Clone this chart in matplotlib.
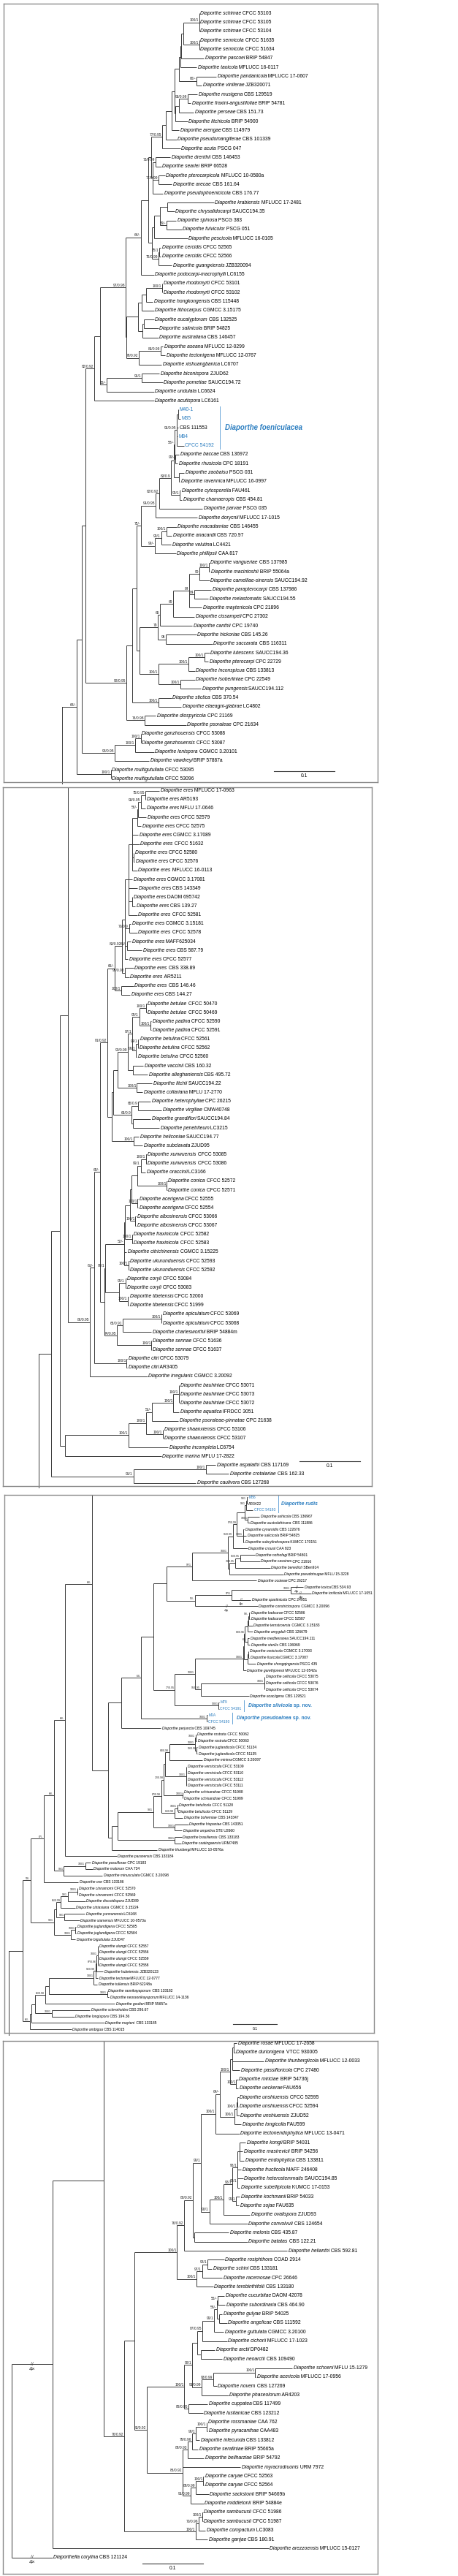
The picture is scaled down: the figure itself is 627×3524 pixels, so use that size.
import matplotlib
matplotlib.use("Agg")
import matplotlib.pyplot as plt
from matplotlib.collections import LineCollection

plt.rcParams["font.family"] = ["Liberation Sans", "DejaVu Sans"]

W, H = 627, 3524
BLUE = "#2a7dc0"
LINE = "#3a3a3a"

# ---- panel 1 ----  (species, strain, parent node, branch length x1e-3)
p1_taxa = [
    ("Diaporthe schimae", "CFCC 53103", "A", 0), ("Diaporthe schimae", "CFCC 53105", "A", 0),
    ("Diaporthe schimae", "CFCC 53104", "A", 0), ("Diaporthe sennicola", "CFCC 51635", "B", 0),
    ("Diaporthe sennicola", "CFCC 51634", "B", 0), ("Diaporthe pascoei", "BRIP 54847", "D", 37.2),
    ("Diaporthe taoicola", "MFLUCC 16-0117", "E", 27.2), ("Diaporthe pandanicola", "MFLUCC 17-0607", "F", 32.4),
    ("Diaporthe viniferae", "JZB320071", "F", 8.4), ("Diaporthe musigena", "CBS 129519", "H", 15.2),
    ("Diaporthe fraxini-angustifoliae", "BRIP 54781", "H", 4.4), ("Diaporthe perseae", "CBS 151.73", "I", 24),
    ("Diaporthe litchicola", "BRIP 54900", "J", 20), ("Diaporthe arengae", "CBS 114979", "L", 12),
    ("Diaporthe pseudomangiferae", "CBS 101339", "M", 17.2), ("Diaporthe acuta", "PSCG 047", "N", 30),
    ("Diaporthe drenthii", "CBS 146453", "O", 24), ("Diaporthe searlei", "BRIP 66528", "O", 8.8),
    ("Diaporthe pterocarpicola", "MFLUCC 10-0580a", "P", 10.8), ("Diaporthe arecae", "CBS 161.64", "P", 22.4),
    ("Diaporthe pseudophoenicicola", "CBS 176.77", "Q", 16.8), ("Diaporthe krabiensis", "MFLUCC 17-2481", "S", 76),
    ("Diaporthe chrysalidocarpi", "SAUCC194.35", "S", 11.2), ("Diaporthe spinosa", "PSCG 383", "T", 15.2),
    ("Diaporthe fulvicolor", "PSCG 051", "T", 24.4), ("Diaporthe pescicola", "MFLUCC 16-0105", "V", 55.2),
    ("Diaporthe cercidis", "CFCC 52565", "W", 2), ("Diaporthe cercidis", "CFCC 52566", "W", 2),
    ("Diaporthe guangxiensis", "JZB320094", "X", 22.4), ("Diaporthe podocarpi-macrophylli", "LC6155", "AA", 20.8),
    ("Diaporthe rhodomyrti", "CFCC 53101", "AB", 0), ("Diaporthe rhodomyrti", "CFCC 53102", "AB", 0),
    ("Diaporthe hongkongensis", "CBS 115448", "AC", 11.2), ("Diaporthe lithocarpus", "CGMCC 3.15175", "AD", 19.6),
    ("Diaporthe eucalyptorum", "CBS 132525", "AE1", 16), ("Diaporthe salinicola", "BRIP 54825", "AE1", 23.2),
    ("Diaporthe australiana", "CBS 146457", "AE", 25.6), ("Diaporthe aseana", "MFLUCC 12-0299", "AG", 4),
    ("Diaporthe tectonigena", "MFLUCC 12-0767", "AG", 7.2), ("Diaporthe xishuangbanica", "LC6707", "AH", 37.6),
    ("Diaporthe biconispora", "ZJUD62", "AK", 28.8), ("Diaporthe pometiae", "SAUCC194.72", "AK", 34),
    ("Diaporthe undulata", "LC6624", "AL", 78), ("Diaporthe acutispora", "LC6161", "AN", 97.6),
    ("", "M40-1", "AO1", 0.8), ("", "M35", "AO1", 3.6), ("", "CBS 111553", "AO", 3.2),
    ("", "M84", "AO", 2), ("", "CFCC 54192", "AO", 12),
    ("Diaporthe baccae", "CBS 136972", "AP", 6), ("Diaporthe rhusicola", "CPC 18191", "AP", 4),
    ("Diaporthe zaobaisu", "PSCG 031", "AQ", 8.8), ("Diaporthe ravennica", "MFLUCC 16-0997", "AQ", 1.2),
    ("Diaporthe cytosporella", "FAU461", "AT", 1.6), ("Diaporthe chamaeropis", "CBS 454.81", "AT", 4),
    ("Diaporthe parvae", "PSCG 035", "AV", 70.8), ("Diaporthe dorycnii", "MFLUCC 17-1015", "AW", 68),
    ("Diaporthe macadamiae", "CBS 146455", "AX", 16), ("Diaporthe anacardii", "CBS 720.97", "AX", 8),
    ("Diaporthe velutina", "LC4421", "AY", 16), ("Diaporthe phillipsii", "CAA 817", "AZ", 34),
    ("Diaporthe vangueriae", "CBS 137985", "BB", 1.2), ("Diaporthe macintoshii", "BRIP 55064a", "BB", 2),
    ("Diaporthe camelliae-sinensis", "SAUCC194.92", "BC", 16), ("Diaporthe parapterocarpi", "CBS 137986", "BD", 28.4),
    ("Diaporthe melastomatis", "SAUCC194.55", "BD", 23.6), ("Diaporthe maytenicola", "CPC 21896", "BE", 20.4),
    ("Diaporthe cissampeli", "CPC 27302", "BF", 34.4), ("Diaporthe canthii", "CPC 19740", "BG", 53.2),
    ("Diaporthe hickoriae", "CBS 145.26", "BH", 50.4), ("Diaporthe saccarata", "CBS 116311", "BH", 76.8),
    ("Diaporthe lutescens", "SAUCC194.36", "BJ", 8), ("Diaporthe pterocarpi", "CPC 22729", "BJ", 6.4),
    ("Diaporthe inconspicua", "CBS 133813", "BK", 10.8), ("Diaporthe isoberliniae", "CPC 22549", "BL", 24),
    ("Diaporthe pungensis", "SAUCC194.112", "BL", 34), ("Diaporthe stictica", "CBS 370.54", "BO", 21.6),
    ("Diaporthe elaeagni-glabrae", "LC4802", "BO", 38), ("Diaporthe diospyricola", "CPC 21169", "BQ", 18),
    ("Diaporthe psoraleae", "CPC 21634", "BQ", 67.6), ("Diaporthe ganzhouensis", "CFCC 53088", "BT", 0),
    ("Diaporthe ganzhouensis", "CFCC 53087", "BT", 0), ("Diaporthe lenispora", "CGMCC 3.20101", "BU", 30.8),
    ("Diaporthe vawdreyi", "BRIP 57887a", "BV", 56.8), ("Diaporthe multigutullata", "CFCC 53095", "BX", 0),
    ("Diaporthe multigutullata", "CFCC 53096", "BX", 0),
]
# (node, parent, branch length x1e-3, support)
p1_nodes = [
    ("A", "C", 26.4, "100/1"), ("B", "C", 26.4, "100/1"), ("C", "D", 2.8, ""), ("D", "E", 2.0, ""),
    ("E", "G", 2.0, ""), ("F", "G", 28.8, "66/-"), ("G", "K", 7.2, ""), ("H", "I", 14.8, "93/0.99"),
    ("I", "J", 6.0, ""), ("J", "K", 1.2, ""), ("K", "L", 4.8, ""), ("L", "M", 9.2, ""),
    ("M", "N", 6.8, ""), ("N", "R", 18, "77/0.95"), ("O", "Q", 4.8, "73/0.99"), ("P", "Q", 8.8, "77/0.99"),
    ("Q", "R", 3.2, ""), ("R", "Z", 4, ""), ("S", "U", 12.4, ""), ("T", "U", 11.2, "59/-"),
    ("U", "V", 10, ""), ("V", "Y", 2.8, ""), ("W", "X", 2, "75/1"), ("X", "Y", 10, "75/0.99"),
    ("Y", "Z", 6, ""), ("Z", "AA", 12, ""), ("AA", "AJ", 26, "64/-"), ("AB", "AC", 26.8, "100/1"),
    ("AC", "AD", 6.8, ""), ("AD", "AF", 6.4, ""), ("AE1", "AE", 2.4, ""), ("AE", "AF", 7.6, ""),
    ("AF", "AI", 19.6, ""), ("AG", "AH", 36, "83/0.99"), ("AH", "AI", 20.8, "79/0.92"), ("AI", "AJ", 1.2, ""),
    ("AJ", "AM", 42, "97/0.98"), ("AK", "AL", 58.4, "91/1"), ("AL", "AM", 10.8, "65/-"), ("AM", "AN", 8.8, ""),
    ("AN", "BY", 15.2, "82/0.92"), ("AO1", "AO", 2.4, ""), ("AO", "AR", 2.8, "91/0.95"), ("AP", "AR", 0.8, "99/-"),
    ("AR", "AS", 2, "58/-"), ("AQ", "AS", 8.8, ""), ("AS", "AU", 4, ""), ("AT", "AU", 14, "99/1"),
    ("AU", "AV", 19.2, "83/0.9"), ("AV", "AW", 6, "62/0.92"), ("AW", "BA", 24, "94/0.95"), ("AX", "AY", 9.2, "100/1"),
    ("AY", "AZ", 10, "99/1"), ("AZ", "BA", 22.8, "99/-"), ("BA", "BS", 7.2, "75/-"), ("BB", "BC", 14.8, "100/1"),
    ("BC", "BE", 17.2, "99"), ("BD", "BE", 8, "84"), ("BE", "BF", 26, "84"), ("BF", "BG", 22, "69"),
    ("BG", "BI", 3.6, "65"), ("BH", "BI", 12.8, "95"), ("BI", "BN", 30.4, "79"), ("BJ", "BK", 26.8, "100/1"),
    ("BK", "BM", 48.4, "100/1"), ("BL", "BM", 35.2, "100/1"), ("BM", "BN", 32, "100/1"), ("BN", "BS", 4, ""),
    ("BS", "BP", 7.6, ""), ("BO", "BP", 42.8, "100/1"), ("BP", "BR", 9.2, ""), ("BQ", "BR", 30, "76/0.98"),
    ("BR", "BY", 68, "98/0.95"), ("BY", "BZ", 6, ""), ("BT", "BU", 9.2, "100/1"), ("BU", "BV", 34, "100/1"),
    ("BV", "BZ", 54, "98/0.95"), ("BZ", "CA", 7.6, ""), ("BX", "CA", 55.6, "100/1"), ("CA", None, 24.4, "68/-"),
]

# ---- panel 2 ----
p2_taxa = [
    ("Diaporthe eres", "MFLUCC 17-0963", "E1", 23.2), ("Diaporthe eres", "AR5193", "E1", 0.4),
    ("Diaporthe eres", "MFLU 17-0646", "E2", 8), ("Diaporthe eres", "CFCC 52579", "E3", 12.8),
    ("Diaporthe eres", "CFCC 52575", "E4", 6), ("Diaporthe eres", "CGMCC 3.17089", "E5", 10.4),
    ("Diaporthe eres", "CFCC 51632", "E5", 12), ("Diaporthe eres", "CFCC 52580", "E5a", 0.8),
    ("Diaporthe eres", "CFCC 52576", "E5a", 1.6), ("Diaporthe eres", "MFLUCC 16-0113", "E5", 8.4),
    ("Diaporthe eres", "CGMCC 3.17081", "E6", 6), ("Diaporthe eres", "CBS 143349", "E6", 14.8),
    ("Diaporthe eres", "DAOM 695742", "E6a", 0), ("Diaporthe eres", "CBS 139.27", "E6a", 4.8),
    ("Diaporthe eres", "CFCC 52581", "E6", 14), ("Diaporthe eres", "CGMCC 3.15181", "E7", 3.2),
    ("Diaporthe eres", "CFCC 52578", "E7", 13.2), ("Diaporthe eres", "MAFF625034", "E8", 6.4),
    ("Diaporthe eres", "CBS 587.79", "E8", 24), ("Diaporthe eres", "CFCC 52577", "E9", 5.2),
    ("Diaporthe eres", "CBS 338.89", "E10", 14.4), ("Diaporthe eres", "AR5211", "E10", 7.2),
    ("Diaporthe eres", "CBS 146.46", "E12", 20), ("Diaporthe eres", "CBS 144.27", "E12", 14.8),
    ("Diaporthe betulae", "CFCC 50470", "E14", 0.8), ("Diaporthe betulae", "CFCC 50469", "E14", 0.8),
    ("Diaporthe padina", "CFCC 52590", "E15", 1.6), ("Diaporthe padina", "CFCC 52591", "E15", 1.6),
    ("Diaporthe betulina", "CFCC 52561", "E17a", 0.8), ("Diaporthe betulina", "CFCC 52562", "E17a", 0),
    ("Diaporthe betulina", "CFCC 52560", "E17", 1.6), ("Diaporthe vaccinii", "CBS 160.32", "E19", 17.2),
    ("Diaporthe alleghaniensis", "CBS 495.72", "E19", 24.4), ("Diaporthe litchii", "SAUCC194.22", "E21", 24.8),
    ("Diaporthe collariana", "MFLU 17-2770", "E21", 9.6), ("Diaporthe heterophyllae", "CPC 26215", "E23", 20.4),
    ("Diaporthe virgiliae", "CMW40748", "E23", 38.8), ("Diaporthe grandiflori", "SAUCC194.84", "E24b", 29.2),
    ("Diaporthe penetriteum", "LC3215", "E24b", 43.6), ("Diaporthe heliconiae", "SAUCC194.77", "E26", 8.8),
    ("Diaporthe subclavata", "ZJUD95", "E26", 15.2), ("Diaporthe xunwuensis", "CFCC 53085", "E29", 0.8),
    ("Diaporthe xunwuensis", "CFCC 53086", "E29", 0.8), ("Diaporthe oraccinii", "LC3166", "E30", 7.6),
    ("Diaporthe conica", "CFCC 52572", "E31", 0.4), ("Diaporthe conica", "CFCC 52571", "E31", 0.4),
    ("Diaporthe acerigena", "CFCC 52555", "E33", 0.8), ("Diaporthe acerigena", "CFCC 52554", "E33", 0.8),
    ("Diaporthe albosinensis", "CFCC 53066", "E35", 0.8), ("Diaporthe albosinensis", "CFCC 53067", "E35", 0.8),
    ("Diaporthe fraxinicola", "CFCC 52582", "E37", 0.8), ("Diaporthe fraxinicola", "CFCC 52583", "E37", 0.8),
    ("Diaporthe citrichinensis", "CGMCC 3.15225", "E41", 4), ("Diaporthe ukurunduensis", "CFCC 52593", "E40", 0.8),
    ("Diaporthe ukurunduensis", "CFCC 52592", "E40", 0.8), ("Diaporthe coryli", "CFCC 53084", "E42", 1.2),
    ("Diaporthe coryli", "CFCC 53083", "E42", 1.2), ("Diaporthe tibetensis", "CFCC 52000", "E43", 1.2),
    ("Diaporthe tibetensis", "CFCC 51999", "E43", 1.2), ("Diaporthe apiculatum", "CFCC 53069", "E46", 0.4),
    ("Diaporthe apiculatum", "CFCC 53068", "E46", 0.4), ("Diaporthe charlesworthii", "BRIP 54884m", "E47", 46.8),
    ("Diaporthe sennae", "CFCC 51636", "E48", 0), ("Diaporthe sennae", "CFCC 51637", "E48", 0),
    ("Diaporthe citri", "CFCC 53079", "E51", 0.8), ("Diaporthe citri", "AR3405", "E51", 0.8),
    ("Diaporthe irregularis", "CGMCC 3.20092", "X368", 94.8), ("Diaporthe bauhiniae", "CFCC 53071", "B1", 0),
    ("Diaporthe bauhiniae", "CFCC 53073", "B1", 0), ("Diaporthe bauhiniae", "CFCC 53072", "B1", 0),
    ("Diaporthe aquatica", "IFRDCC 3051", "B2", 9.2), ("Diaporthe psoraleae-pinnatae", "CPC 21638", "B3", 43.2),
    ("Diaporthe shaanxiensis", "CFCC 53106", "B4", 0.8), ("Diaporthe shaanxiensis", "CFCC 53107", "B4", 0.8),
    ("Diaporthe incompleta", "LC6754", "B6", 65.2), ("Diaporthe marina", "MFLU 17-2822", "B7", 157.6),
    ("Diaporthe aspalathi", "CBS 117169", "B8", 16), ("Diaporthe crotalariae", "CBS 162.33", "B8", 38),
    ("Diaporthe caulivora", "CBS 127268", "B9", 102.8),
]
p2_nodes = [
    ("E1", "E2", 7.6, "75/0.95"), ("E2", "E3", 4, "93/0.95"), ("E3", "E4", 1.2, "56/-"), ("E4", "E5", 9.2, ""),
    ("E5a", "E5", 2.4, ""), ("E5", "E6", 5.6, ""), ("E6a", "E6", 6, ""), ("E6", "E9", 6.4, ""),
    ("E7", "E9", 7.2, "70/0.9"), ("E8", "E9", 4, "61/-"), ("E9", "E11", 4.8, ""), ("E10", "E11", 4.8, "96/0.98"),
    ("E11", "E13", 12, "83/0.92"), ("E12", "E13", 11.2, "100/1"), ("E13", "E28", 11.2, "65/-"),
    ("E14", "E16", 11.2, "100/1"), ("E15", "E16", 18.4, "100/1"), ("E16", "E18", 11.6, "99/1"),
    ("E17a", "E17", 4, "94/1"), ("E17", "E18", 6, "99/1"), ("E18", "E20", 7.2, "97/1"), ("E19", "E20", 8, ""),
    ("E20", "E22", 17.2, "90/0.99"), ("E21", "E22", 32, "100/1"), ("E22", "E25", 6.8, ""),
    ("E23", "E24", 10.8, "65/0.9"), ("E24b", "E24", 2, ""), ("E24", "E25", 30, "65/0.9"), ("E25", "E27", 2, ""),
    ("E26", "E27", 35.2, "100/1"), ("E27", "E28", 7.2, ""), ("E28", "X412", 12, "81/0.92"),
    ("E29", "E30", 8.8, "100/1"), ("E30", "E32", 5.2, "99/1"), ("E31", "E32", 48, "100/1"), ("E32", "E34", 10, ""),
    ("E33", "E34", 10, "100/1"), ("E34", "E36", 2, ""), ("E35", "E36", 8.4, "100/1"), ("E36", "E38", 9.2, ""),
    ("E37", "E38", 12.4, "100/1"), ("E38", "E41", 0.8, ""), ("E40", "E41", 7.2, "100/1"), ("E41", "E45", 31.2, "52/-"),
    ("E42", "E44", 10, "99/1"), ("E43", "E44", 14, "100/1"), ("E44", "E45", 23.2, ""), ("E45", "E50", 0.8, "99/1"),
    ("E46", "E47", 62.8, "100/1"), ("E47", "E49", 10, "65/0.91"), ("E48", "E49", 56.8, "100/1"),
    ("E49", "E50", 20, "74/0.95"), ("E50", "X412", 7.2, ""), ("X412", "X388", 9.6, "69/-"),
    ("E51", "X388", 52.8, "100/1"), ("X388", "X368", 8, "61/-"), ("X368", "X280", 35.2, "86/0.95"),
    ("X280", "X245", 14, ""), ("B1", "B2", 9.2, "100/1"), ("B2", "B3", 34.8, "100/1"), ("B3", "B5", 10, "51/-"),
    ("B4", "B5", 27.2, "100/1"), ("B5", "B6", 29.2, "100/1"), ("B6", "B7", 103.6, "100/1"), ("B7", "X245", 9.2, ""),
    ("X245", "X210", 14, ""), ("B8", "B9", 118.8, "100/1"), ("B9", "X210", 135.2, "91/1"), ("X210", None, 20, ""),
]

# ---- panel 3 ----
p3_taxa = [
    ("", "M86", "R1", 1.1), ("", "AR3422", "R1", 1.1), ("", "CFCC 54193", "R2", 15.6),
    ("Diaporthe ashicola", "CBS 136967", "R3", 26.7), ("Diaporthe australafricana", "CBS 111886", "R3", 3.9),
    ("Diaporthe cynaroidis", "CBS 122676", "R5", 2.2), ("Diaporthe salicicola", "BRIP 54825", "R5", 6.7),
    ("Diaporthe subcylindrospora", "KUMCC 170151", "R5", 2.2), ("Diaporthe crousii", "CAA 823", "R7", 33.4),
    ("Diaporthe nothofagi", "BRIP 54801", "R8", 33.4), ("Diaporthe cassines", "CPC 21916", "R8", 45),
    ("Diaporthe benedicti", "SBen914", "R9", 79.5), ("Diaporthe pseudotsugae", "MFLU 15-3228", "R10", 122.3),
    ("Diaporthe ocoteae", "CPC 26217", "R12", 147.3), ("Diaporthe toxica", "CBS 534.93", "R13", 28.9),
    ("Diaporthe torilicola", "MFLUCC 17-1051", "R13", 46.7), ("Diaporthe spartinicola", "CPC 24951", "R14", 43.4),
    ("Diaporthe constrictospora", "CGMCC 3.20096", "R15", 143.4), ("Diaporthe kadsurae", "CFCC 52586", "R17", 1.1),
    ("Diaporthe kadsurae", "CFCC 52587", "R17", 1.1), ("Diaporthe ternstroemia", "CGMCC 3.15183", "R18", 8.9),
    ("Diaporthe amygdali", "CBS 126679", "R19", 12.8), ("Diaporthe mediterranea", "SAUCC194.111", "R20", 3.9),
    ("Diaporthe sterilis", "CBS 136969", "R20", 6.1), ("Diaporthe ovoicicola", "CGMCC 3.17093", "R21", 1.1),
    ("Diaporthe fusicola", "CGMCC 3.17087", "R21", 2.2), ("Diaporthe chongqingensis", "PSCG 435", "R21b", 19.5),
    ("Diaporthe garethjonesii", "MFLUCC 12-0542a", "R24", 7.2), ("Diaporthe celticola", "CFCC 53075", "R25", 0.6),
    ("Diaporthe celticola", "CFCC 53076", "R25", 0.6), ("Diaporthe celticola", "CFCC 53074", "R25", 0.6),
    ("Diaporthe acaciigena", "CBS 129521", "R26", 109.5), ("", "M79", "R28", 0.6), ("", "CFCC 54191", "R28", 0.6),
    ("", "M2A", "R30", 1.1), ("", "CFCC 54190", "R30", 1.1), ("Diaporthe perjuncta", "CBS 109745", "R34", 90.6),
    ("Diaporthe rostrata", "CFCC 50062", "R35", 1.1), ("Diaporthe rostrata", "CFCC 50063", "R35", 1.7),
    ("Diaporthe juglandicola", "CFCC 51134", "R36", 1.7), ("Diaporthe juglandicola", "CFCC 51135", "R36", 1.7),
    ("Diaporthe minima", "CGMCC 3.20097", "R38", 75.1), ("Diaporthe vernicicola", "CFCC 53109", "R39", 1.1),
    ("Diaporthe vernicicola", "CFCC 53110", "R39", 1.1), ("Diaporthe vernicicola", "CFCC 53112", "R39", 1.1),
    ("Diaporthe vernicicola", "CFCC 53111", "R39", 1.1), ("Diaporthe schisandrae", "CFCC 51988", "R41", 0),
    ("Diaporthe schisandrae", "CFCC 51989", "R41", 0), ("Diaporthe betulicola", "CFCC 51128", "R43", 1.7),
    ("Diaporthe betulicola", "CFCC 51129", "R43", 0), ("Diaporthe bohemiae", "CBS 143347", "R44", 19.5),
    ("Diaporthe hispaniae", "CBS 143351", "R46", 30.6), ("Diaporthe ampelina", "STE U2660", "R46", 16.1),
    ("Diaporthe brasiliensis", "CBS 133183", "R48", 15.6), ("Diaporthe caatingaensis", "URM7485", "R48", 13.9),
    ("Diaporthe thunbergii", "MFLUCC 10-0576a", "R50", 104.5), ("Diaporthe paranensis", "CBS 133184", "X268", 116.8),
    ("Diaporthe passiflorae", "CPC 19183", "R53", 12.2), ("Diaporthe malorum", "CAA 734", "R53", 16.7),
    ("Diaporthe minusculata", "CGMCC 3.20098", "R54", 87.8), ("Diaporthe oxe", "CBS 133186", "X180", 79),
    ("Diaporthe cinnamomi", "CFCC 52570", "R55", 0), ("Diaporthe cinnamomi", "CFCC 52569", "R55", 0),
    ("Diaporthe discoidispora", "ZJUD89", "R56", 40), ("Diaporthe citriasiana", "CGMCC 3.15224", "R57", 32.2),
    ("Diaporthe yunnanensis", "LC6168", "R58", 46.1), ("Diaporthe siamensis", "MFLUCC 10-0573a", "R58", 33.9),
    ("Diaporthe juglandigena", "CFCC 52585", "R60", 1.1), ("Diaporthe juglandigena", "CFCC 52584", "R60", 1.1),
    ("Diaporthe biguttulata", "ZJUD47", "R61", 10), ("Diaporthe alangii", "CFCC 52557", "R64", 0.6),
    ("Diaporthe alangii", "CFCC 52556", "R64", 0.6), ("Diaporthe alangii", "CFCC 52559", "R64", 0.6),
    ("Diaporthe alangii", "CFCC 52558", "R64", 0.6), ("Diaporthe hubeiensis", "JZB320123", "R65", 15),
    ("Diaporthe tectonae", "MFLUCC 12-0777", "R66", 5.6), ("Diaporthe tulliensis", "BRIP 62248a", "R67", 8.3),
    ("Diaporthe raonikayaporum", "CBS 133182", "R68", 0), ("Diaporthe neoraonikayaporum", "MFLUCC 14-1136", "R68", 3.9),
    ("Diaporthe goulteri", "BRIP 55657a", "R70", 159.6), ("Diaporthe sclerotioides", "CBS 296.67", "R71", 87.3),
    ("Diaporthe longispora", "CBS 194.36", "R71", 51.2), ("Diaporthe mayteni", "CBS 133185", "R73", 165.7),
    ("Diaporthe ambigua", "CBS 114015", "R74", 95.1),
]
p3_nodes = [
    ("R1", "R2", 1.7, "99/1"), ("R2", "R4", 3.9, "99/1"), ("R3", "R4", 7.8, "100/1"), ("R4", "R6", 17.2, ""),
    ("R5", "R6", 14.5, "100/1"), ("R6", "R7", 9.5, "97/0.99"), ("R7", "R11", 11.1, "91/0.99"),
    ("R8", "R9", 11.1, "96/0.95"), ("R9", "R10", 12.8, "79/0.95"), ("R10", "R11", 3.9, ""),
    ("R11", "R12", 82.3, "100/1"), ("R12", "R16", 58.4, "97/1"), ("R13", "R14", 134.5, "100/1"),
    ("R14", "R15", 83.4, "97/1"), ("R15", "R16", 65.6, "56/-"), ("R16", "R33", 30, ""),
    ("R17", "R18", 1.7, "99/-"), ("R18", "R19", 2.8, ""), ("R19", "R22", 5.6, ""), ("R20", "R22", 5.6, "63/-"),
    ("R22", "R23", 2.8, "83/0.96"), ("R21", "R21b", 1.7, ""), ("R21b", "R23", 8.3, ""), ("R23", "R24", 1.7, ""),
    ("R24", "R27", 109.5, "100/1"), ("R25", "R26", 144.6, "100/1"), ("R26", "R27", 13.9, "95/0.95"),
    ("R27", "R29", 46.1, "100/1"), ("R28", "R29", 100, "100/1"), ("R29", "R33", 49.5, "77/0.95"),
    ("R33", "R31", 26.7, ""), ("R30", "R31", 149, "100/1"), ("R31", "R34", 46.1, "63/-"), ("R34", "R51", 30, ""),
    ("R35", "R37", 1.7, "100/1"), ("R36", "R37", 3.9, "99/0.98"), ("R37", "R38", 58.4, "100/1"),
    ("R38", "R40", 9.5, "84/0.98"), ("R39", "R40", 47.3, "100/1"), ("R40", "R42", 3.3, ""),
    ("R41", "R42", 43.4, "100/1"), ("R42", "R45", 5.6, "72/0.98"), ("R43", "R44", 6.7, "100/1"),
    ("R44", "R45", 29.5, "81/0.98"), ("R45", "R47", 18.9, "87/0.98"), ("R46", "R47", 49.5, "100/1"),
    ("R47", "R49", 80.6, "98/1"), ("R48", "R49", 130.1, "100/1"), ("R49", "R50", 14.5, ""), ("R50", "R51", 7.8, ""),
    ("R51", "X378", 36.1, ""), ("X378", "X268", 61.2, "68/-"), ("X268", "X222", 25.6, "68/-"),
    ("R53", "R54", 48.9, "100/1"), ("R54", "X222", 22.2, "99/1"), ("X222", "X180", 23.4, "69/-"),
    ("X180", "R63", 29.5, "67/-"), ("R55", "R56", 22.2, "100/1"), ("R56", "R57", 15.6, "99/1"),
    ("R57", "R59", 10, "65/0.99"), ("R58", "R59", 18.3, "98/1"), ("R59", "R62", 5.6, ""),
    ("R60", "R61", 10, "100/1"), ("R61", "R62", 38.9, "100/1"), ("R62", "R63", 52.8, "98/1"),
    ("R63", "R75", 18.9, "53/-"), ("R64", "R65", 2.8, "100/1"), ("R65", "R66", 2.8, "87/0.96"),
    ("R66", "R67", 3.9, "96/0.98"), ("R67", "R69", 102.9, "100/1"), ("R68", "R69", 133.4, "100/1"),
    ("R69", "R70", 8.3, ""), ("R70", "R72", 22.2, "86/0.98"), ("R71", "R72", 37.8, "100/1"),
    ("R72", "R73", 8.3, ""), ("R73", "R74", 4.4, ""), ("R74", "R75", 16.1, "66/-"), ("R75", None, 31.1, ""),
]

# ---- panel 4 ----
p4_taxa = [
    ("Diaporthe rosae", "MFLUCC 17-2658", "T1a", 5.2), ("Diaporthe durionigena", "VTCC 930005", "T1a", 2),
    ("Diaporthe thunbergiicola", "MFLUCC 12-0033", "T1", 51.2), ("Diaporthe passifloricola", "CPC 27480", "T1", 12),
    ("Diaporthe miriciae", "BRIP 54736j", "T2", 2.8), ("Diaporthe ueckerae", "FAU656", "T2", 3.2),
    ("Diaporthe unshiuensis", "CFCC 52595", "T4", 2), ("Diaporthe unshiuensis", "CFCC 52594", "T4", 1.2),
    ("Diaporthe unshiuensis", "ZJUD52", "T5", 4.4), ("Diaporthe longicolla", "FAU599", "T6", 11.2),
    ("Diaporthe tectonendophytica", "MFLUCC 13-0471", "T8", 39.2), ("Diaporthe kongii", "BRIP 54031", "T9a", 9.2),
    ("Diaporthe masirevicii", "BRIP 54256", "T9a", 4.8), ("Diaporthe endophytica", "CBS 133811", "T9a", 7.2),
    ("Diaporthe fructicola", "MAFF 246408", "T9", 6), ("Diaporthe heterostemmatis", "SAUCC194.85", "T9b", 9.2),
    ("Diaporthe subellipicola", "KUMCC 17-0153", "T9b", 4), ("Diaporthe kochmanii", "BRIP 54033", "T10", 6),
    ("Diaporthe sojae", "FAU635", "T10", 4.8), ("Diaporthe ovalispora", "ZJUD93", "T12", 44),
    ("Diaporthe convolvuli", "CBS 124654", "T13", 62.4), ("Diaporthe melonis", "CBS 435.87", "T15", 57.2),
    ("Diaporthe batatas", "CBS 122.21", "T15", 87.6), ("Diaporthe helianthi", "CBS 592.81", "T17", 170),
    ("Diaporthe rosiphthora", "COAD 2914", "T18", 27.2), ("Diaporthe schini", "CBS 133181", "T18", 7.2),
    ("Diaporthe racemosae", "CPC 26646", "T19", 32.8), ("Diaporthe terebinthifolii", "CBS 133180", "T20", 27.2),
    ("Diaporthe cucurbitae", "DAOM 42078", "T22", 10.8), ("Diaporthe subordinaria", "CBS 464.90", "T22", 11.6),
    ("Diaporthe gulyae", "BRIP 54025", "T23", 4.8), ("Diaporthe angelicae", "CBS 111592", "T23", 12.8),
    ("Diaporthe guttulata", "CGMCC 3.20100", "T25", 15.2), ("Diaporthe cichorii", "MFLUCC 17-1023", "T26", 40.8),
    ("Diaporthe arctii", "DP0482", "T27", 23.2), ("Diaporthe neoarctii", "CBS 109490", "T27", 35.2),
    ("Diaporthe schoeni", "MFLU 15-1279", "T29", 60.8), ("Diaporthe acericola", "MFLUCC 17-0956", "T29", 0.8),
    ("Diaporthe novem", "CBS 127269", "T30", 5.2), ("Diaporthe phaseolorum", "AR4203", "T31", 44.4),
    ("Diaporthe cuppatea", "CBS 117499", "T33", 31.6), ("Diaporthe lusitanicae", "CBS 123212", "T33", 24),
    ("Diaporthe rossmaniae", "CAA 762", "T35", 0.8), ("Diaporthe pyracanthae", "CAA483", "T35", 1.6),
    ("Diaporthe infecunda", "CBS 133812", "T36", 6), ("Diaporthe serafiniae", "BRIP 55665a", "T37", 9.2),
    ("Diaporthe beilharziae", "BRIP 54792", "T38", 27.2), ("Diaporthe myracrodruonis", "URM 7972", "T42", 95.2),
    ("Diaporthe caryae", "CFCC 52563", "T39", 1.2), ("Diaporthe caryae", "CFCC 52564", "T39", 1.2),
    ("Diaporthe sackstonii", "BRIP 54669b", "T40", 20.8), ("Diaporthe middletonii", "BRIP 54884e", "T41", 21.6),
    ("Diaporthe sambucusii", "CFCC 51986", "T44", 1.2), ("Diaporthe sambucusii", "CFCC 51987", "T44", 1.2),
    ("Diaporthe compactum", "LC3083", "T45", 11.2), ("Diaporthe ganjae", "CBS 180.91", "T46", 20),
    ("Diaporthe arezzoensis", "MFLUCC 15-0127", "X215", 355.2), ("Diaporthella corylina", "CBS 121124", "X47", 67.2),
]
p4_nodes = [
    ("T1a", "T1", 2, ""), ("T1", "T3", 4, ""), ("T2", "T3", 10, "100/1"), ("T3", "T7", 16.8, "100/1"),
    ("T4", "T5", 1.2, ""), ("T5", "T6", 4, "100/1"), ("T6", "T7", 23.6, "100/1"), ("T7", "T8", 7.2, "64/-"),
    ("T8", "T14", 24, "100/1"), ("T9a", "T9", 4, ""), ("T9b", "T9", 0, "99/1"), ("T9", "T11", 8, "96/1"),
    ("T10", "T11", 6, "99/1"), ("T11", "T12", 15.2, "98/1"), ("T12", "T13", 22.8, "100/1"),
    ("T13", "T14", 14, "98/1"), ("T14", "T16", 12.8, "99/1"), ("T15", "T16", 1.6, ""),
    ("T16", "T17", 15.2, "88/0.92"), ("T17", "T21", 11.2, "76/0.92"), ("T18", "T19", 8.8, "98/1"),
    ("T19", "T20", 9.2, "97/1"), ("T20", "T21", 32, "100/1"), ("T21", "T47", 70, "100/1"),
    ("T22", "T24", 2, "55/-"), ("T23", "T24", 4, ""), ("T24", "T25", 4, "58/-"), ("T25", "T26", 20, "99/1"),
    ("T26", "T28", 8, "87/0.95"), ("T27", "T28", 6, ""), ("T28", "T32", 8, ""), ("T29", "T30", 68.4, "100/1"),
    ("T30", "T31", 20, "93/0.99"), ("T31", "T32", 14.8, "91/0.99"), ("T32", "T34", 13.2, "98/1"),
    ("T33", "T34", 6.4, "89/0.95"), ("T34", "T43", 62, "100/1"), ("T35", "T36", 17.2, "100/1"),
    ("T36", "T37", 6, "99/1"), ("T37", "T38", 8, "79/0.96"), ("T38", "T42", 8, "89/0.93"),
    ("T39", "T40", 12, "100/1"), ("T40", "T41", 9.2, "89/0.99"), ("T41", "T42", 12.8, "91/0.99"),
    ("T42", "T43", 59.2, "86/0.92"), ("T43", "T47", 20, "83/0.92"), ("T44", "T45", 6, "100/1"),
    ("T45", "T46", 4.8, "70/0.96"), ("T46", "T48", 117.2, "100/1"), ("T47", "T48", 16.8, ""),
    ("T48", "X425", 34, "76/0.92"), ("X425", "X215", 84, ""), ("X215", "X47", 67.2, ""), ("X47", None, 0, ""),
]

# highlighted strains and named clades
p1_blue = [44, 45, 47, 48]
p3_blue = [0, 2, 32, 33, 34, 35]
p1_clades = [(44, 48, "Diaporthe foeniculacea", "")]
p3_clades = [(0, 2, "Diaporthe rudis", ""), (32, 33, "Diaporthe silvicola", " sp. nov."),
             (34, 35, "Diaporthe pseudoalnea", " sp. nov.")]
p3_breaks = [14, 15, 16, 17]
p4_breaks = ["X215", 57]

panels = [
    dict(taxa=p1_taxa, nodes=p1_nodes, frame=(5, 5, 517, 1070), root_px=105.3, top=18.3, step=12.32,
         ppm=0.8333, fs=4.9, sfs=3.5, link=None, down=True, scale=(375, 1055), blue=p1_blue,
         clades=p1_clades, clade_px=[(300.7, 308)], cfs=6.9, breaks=[]),
    dict(taxa=p2_taxa, nodes=p2_nodes, frame=(4.3, 1077, 509.3, 2033), root_px=70.0, top=1081.7, step=12.14,
         ppm=0.8333, fs=4.9, sfs=3.5, link=("X280", -9.2), down=True, scale=(410, 1999), blue=[],
         clades=[], clade_px=[], cfs=6.9, breaks=[]),
    dict(taxa=p3_taxa, nodes=p3_nodes, frame=(6, 2045, 512, 2781), root_px=31.0, top=2048.3, step=8.77,
         ppm=0.6, fs=3.6, sfs=2.6, link=("X378", -15.5), down=True, scale=(319, 2769), blue=p3_blue,
         clades=p3_clades, clade_px=[(380.7, 385), (334, 340), (318, 324)], cfs=4.9, breaks=p3_breaks),
    dict(taxa=p4_taxa, nodes=p4_nodes, frame=(4.3, 2792, 517.3, 3521), root_px=15.7, top=2795.3, step=12.34,
         ppm=0.8333, fs=4.9, sfs=3.5, link=("X425", -13.2), down=False, scale=(195, 3507), blue=[],
         clades=[], clade_px=[], cfs=6.9, breaks=p4_breaks),
]


def layout(taxa, nodes, link):
    parent, blen, supp = {}, {}, {}
    for i, t in enumerate(taxa):
        parent[i], blen[i] = t[2], t[3]
    for name, par, bl, s in nodes:
        parent[name], blen[name], supp[name] = par, bl, s
    kids = {}
    for k, p in parent.items():
        if p is not None:
            kids.setdefault(p, []).append(k)
    root = [n[0] for n in nodes if n[1] is None][0]
    depth, ypos, vext = {}, {}, {}

    def walk(n, d):
        depth[n] = d
        if n not in kids:
            ypos[n] = n
            return
        for c in kids[n]:
            walk(c, d + blen[c])
        ys = [ypos[c] for c in kids[n]]
        ypos[n] = (min(ys) + max(ys)) / 2
        if link and link[0] == n:
            ys.append(link[1])
            ypos[n] = (min(ys) + max(ys)) / 2
        vext[n] = (min(ys), max(ys))

    walk(root, 0.0)
    return parent, blen, supp, kids, root, depth, ypos, vext


fig = plt.figure(figsize=(W / 100, H / 100), dpi=100)

for p in panels:
    L, T, R, B = p["frame"]
    ax = fig.add_axes([L / W, 1 - B / H, (R - L) / W, (B - T) / H])
    ppm, rx, top, step = p["ppm"], p["root_px"], p["top"], p["step"]

    def fx(px):
        return (px - rx) / ppm

    def fy(py):
        return (py - top) / step

    ax.set_xlim(fx(L), fx(R))
    ax.set_ylim(fy(B), fy(T))
    ax.set_xticks([])
    ax.set_yticks([])
    for s in ax.spines.values():
        s.set_color("#8a8a8a")
        s.set_linewidth(1.0)

    parent, blen, supp, kids, root, depth, ypos, vext = layout(p["taxa"], p["nodes"], p["link"])

    segs = []
    for k, par in parent.items():
        if par is not None:
            segs.append([(depth[par], ypos[k]), (depth[k], ypos[k])])
    segs.append([(-blen[root], ypos[root]), (0, ypos[root])])
    for n, (y0, y1) in vext.items():
        segs.append([(depth[n], y0), (depth[n], y1)])
    ax.add_collection(LineCollection(segs, colors=LINE, linewidths=0.7))

    if p["down"]:
        ax.plot([-blen[root], -blen[root]], [ypos[root], fy(B + 2.5)], color=LINE, lw=0.7, clip_on=False)

    # support values
    for n, s in supp.items():
        if s:
            ax.annotate(s, (depth[n], ypos[n]), xytext=(-0.6, 0.2), textcoords="offset points",
                        ha="right", va="bottom", fontsize=p["sfs"], color="#222222")

    # taxon labels
    gap = 1.6 / ppm
    for i, (sp, st, _, _) in enumerate(p["taxa"]):
        x = depth[i] + gap
        col = BLUE if i in p["blue"] else "black"
        if sp:
            t = ax.text(x, i, sp, fontstyle="italic", fontsize=p["fs"], va="center", ha="left")
            ax.annotate(" " + st, xy=(1, 0), xycoords=t, va="bottom", ha="left", fontsize=p["fs"], color=col)
        else:
            ax.text(x, i, st, fontsize=p["fs"], va="center", ha="left", color=col)

    # named clades
    for (a, b, name, extra), (lx, tx) in zip(p["clades"], p["clade_px"]):
        ax.plot([fx(lx), fx(lx)], [a - 0.35, b + 0.35], color="#6aa6d8", lw=0.7)
        t = ax.text(fx(tx), (a + b) / 2, name, fontstyle="italic", fontweight="bold",
                    fontsize=p["cfs"], color=BLUE, va="center", ha="left")
        if extra:
            ax.annotate(extra, xy=(1, 0), xycoords=t, va="bottom", ha="left", fontweight="bold",
                        fontsize=p["cfs"], color=BLUE)

    # shortened branches
    for k in p["breaks"]:
        xm = depth[parent[k]] + 0.5 * blen[k]
        ax.text(xm, ypos[k], "//", fontsize=p["fs"], ha="center", va="center", color=LINE)
        ax.annotate("4×", (xm, ypos[k]), xytext=(0, -2.5), textcoords="offset points",
                    ha="center", va="top", fontsize=p["fs"] + 0.5, color="#222222")

    # scale bar
    sx, sy = p["scale"]
    ax.plot([fx(sx), fx(sx) + 100], [fy(sy), fy(sy)], color=LINE, lw=0.8)
    ax.text(fx(sx) + 50, fy(sy + 6.5), "0.1", fontsize=p["fs"], ha="center", va="center")

fig.savefig("out.png", dpi=100, facecolor="white")
